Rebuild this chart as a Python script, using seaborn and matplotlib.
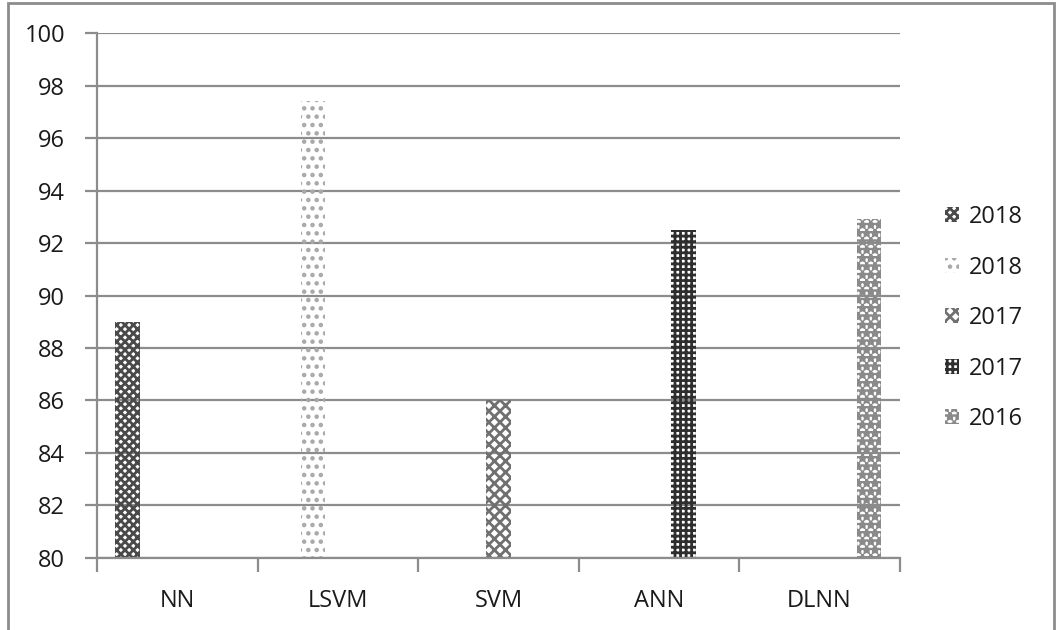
import matplotlib
matplotlib.use("Agg")
import matplotlib.pyplot as plt
import seaborn as sns
import pandas as pd
from matplotlib.patches import Patch, Rectangle

models = ["NN", "LSVM", "SVM", "ANN", "DLNN"]
series_keys = ["s1", "s2", "s3", "s4", "s5"]
series_labels = ["2018", "2018", "2017", "2017", "2016"]
accuracy = [89.0, 97.4, 86.0, 92.5, 92.9]
y_ticks = [80, 82, 84, 86, 88, 90, 92, 94, 96, 98, 100]

hatches = ["xxxx", "..", "xxx", "+++", "**"]
hatch_colors = ["#4a4a4a", "#a8a8a8", "#707070", "#2e2e2e", "#8a8a8a"]

df = pd.DataFrame({"model": models, "series": series_keys, "acc": accuracy})

sns.set_theme(style="white")
plt.rcParams["font.family"] = ["Open Sans", "DejaVu Sans"]
plt.rcParams["hatch.linewidth"] = 2.0

fig = plt.figure(figsize=(10.62, 6.30), dpi=100)
ax = fig.add_axes([0.0913, 0.1143, 0.756, 0.8333])

sns.barplot(data=df, x="model", y="acc", hue="series", order=models,
            hue_order=series_keys, dodge=True, width=0.77, legend=False,
            ax=ax, errorbar=None)

for cont, h, c in zip(ax.containers, hatches, hatch_colors):
    for bar in cont:
        bar.set_facecolor("none")
        bar.set_edgecolor(c)
        bar.set_linewidth(0)
        bar.set_hatch(h)

text_c = "#1a1a1a"
fs = 17
ax.set_ylim(80, 100)
ax.set_xlim(-0.5, len(models) - 0.5)
ax.set_yticks(y_ticks)
ax.set_yticklabels([str(t) for t in y_ticks], fontsize=fs)
ax.set_xticks(range(len(models)))
ax.set_xticklabels(models, fontsize=fs)
ax.set_xlabel("")
ax.set_ylabel("")

grid_c = "#8c8c8c"
ax.yaxis.grid(True, color=grid_c, linewidth=1.6)
ax.set_axisbelow(True)
for s in ["top", "right"]:
    ax.spines[s].set_visible(False)
for s in ["left", "bottom"]:
    ax.spines[s].set_color(grid_c)
    ax.spines[s].set_linewidth(1.6)

ax.tick_params(axis="y", left=True, direction="out", length=9, width=1.6,
               color=grid_c, pad=14, labelcolor=text_c)
ax.tick_params(axis="x", which="major", bottom=True, length=0, pad=22,
               labelcolor=text_c)
ax.set_xticks([i - 0.5 for i in range(len(models) + 1)], minor=True)
ax.tick_params(axis="x", which="minor", bottom=True, direction="out",
               length=10, width=1.6, color=grid_c)

handles = [Patch(facecolor="none", edgecolor=c, hatch=h, linewidth=0)
           for h, c in zip(hatches, hatch_colors)]
fig.legend(handles, series_labels, loc="center left",
           bbox_to_anchor=(0.87, 0.495), frameon=False, fontsize=fs,
           handlelength=0.6, handleheight=0.6, handletextpad=0.4,
           labelspacing=1.12, labelcolor=text_c)

fig.patches.append(Rectangle((0.0075, -0.01), 0.985, 1.006,
                             transform=fig.transFigure, fill=False,
                             edgecolor="#8c8c8c", linewidth=2))

fig.savefig("out.png", dpi=100, facecolor="white")
